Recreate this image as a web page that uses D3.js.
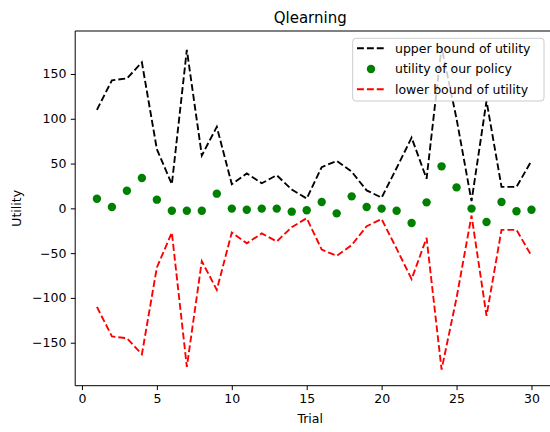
<!DOCTYPE html>
<html>
<head>
<meta charset="utf-8">
<script src="https://cdn.jsdelivr.net/npm/d3@7"></script>
<style>
  html, body { margin: 0; padding: 0; background: #fff; overflow: hidden; }
  svg { display: block; font-family: "DejaVu Sans", sans-serif; }
</style>
</head>
<body>
<svg id="chart" width="550" height="432"></svg>
<script>
const trials = d3.range(1, 31);
const upperBound = [110, 143, 145, 163, 66, 27, 177, 59, 91, 27, 39, 28, 37, 21, 11, 46, 53, 41, 20, 12, 45, 79, 33, 180, 100, 8, 120, 24, 24, 53];
const utility = [10.8, 1.5, 19.7, 33.9, 9.7, -2.6, -2.6, -2.6, 16.4, -0.3, -1.5, -0.3, -0.3, -3.7, -2.2, 7.1, -5.6, 13.4, 1.5, -0.3, -2.6, -16.3, 6.7, 46.9, 23.4, -0.3, -15.2, 7.1, -3.3, -1.5];
const lowerBound = [-110, -143, -145, -163, -66, -27, -177, -59, -91, -27, -39, -28, -37, -21, -11, -46, -53, -41, -20, -12, -45, -79, -33, -180, -100, -8, -120, -24, -24, -53];
const xTicks = [0, 5, 10, 15, 20, 25, 30];
const yTicks = [-150, -100, -50, 0, 50, 100, 150];
const legendLabels = ["upper bound of utility", "utility of our policy", "lower bound of utility"];

(function () {
const svg = d3.select("#chart");
const pL = 75.2, pR = 553.2, pT = 31, pB = 385.7;

function padded(ext) { const m = (ext[1] - ext[0]) * 0.05; return [ext[0] - m, ext[1] + m]; }
const xDom = padded(d3.extent(trials));
const yDom = padded(d3.extent(upperBound.concat(lowerBound, utility)));

const x = d3.scaleLinear().domain(xDom).range([pL, pR]);
const y = d3.scaleLinear().domain(yDom).range([pB, pT]);

const fs = 12.5;

const xAxis = svg.append("g").attr("transform", `translate(0,${pB})`)
  .call(d3.axisBottom(x).tickValues(xTicks).tickSize(4.4).tickPadding(4.4).tickFormat(d3.format("d")));
const yAxis = svg.append("g").attr("transform", `translate(${pL},0)`)
  .call(d3.axisLeft(y).tickValues(yTicks).tickSize(4.4).tickPadding(4.4).tickFormat(d => d < 0 ? "\u2212" + Math.abs(d) : d));
[xAxis, yAxis].forEach(g => {
  g.select(".domain").remove();
  g.selectAll(".tick line").attr("stroke", "#000").attr("stroke-width", 1);
  g.selectAll(".tick text").attr("fill", "#000").style("font-size", fs + "px").style("font-family", "DejaVu Sans");
});

// spines (right spine lies beyond the cropped canvas)
const spines = svg.append("g").attr("stroke", "#000").attr("stroke-width", 1);
spines.append("line").attr("x1", pL).attr("x2", pL).attr("y1", pT).attr("y2", pB);
spines.append("line").attr("x1", pL).attr("x2", pR).attr("y1", pT).attr("y2", pT);
spines.append("line").attr("x1", pL).attr("x2", pR).attr("y1", pB).attr("y2", pB);
spines.append("line").attr("x1", pR).attr("x2", pR).attr("y1", pT).attr("y2", pB);

const line = d3.line().x((d, i) => x(trials[i])).y(d => y(d));

svg.append("path").datum(upperBound).attr("d", line)
  .attr("fill", "none").attr("stroke", "#000").attr("stroke-width", 1.875).attr("stroke-dasharray", "6.9,3");

svg.append("g").selectAll("circle").data(utility).join("circle")
  .attr("cx", (d, i) => x(trials[i])).attr("cy", d => y(d)).attr("r", 4.2).attr("fill", "#008000");

svg.append("path").datum(lowerBound).attr("d", line)
  .attr("fill", "none").attr("stroke", "#ff0000").attr("stroke-width", 1.875).attr("stroke-dasharray", "6.9,3");

svg.append("text").attr("x", (pL + pR) / 2 - 4).attr("y", 23).attr("text-anchor", "middle")
  .style("font-size", "15px").attr("fill", "#000").text("Qlearning");
svg.append("text").attr("x", (pL + pR) / 2 - 4).attr("y", 423).attr("text-anchor", "middle")
  .style("font-size", fs + "px").attr("fill", "#000").text("Trial");
svg.append("text").attr("transform", `translate(21,${(pT + pB) / 2}) rotate(-90)`).attr("text-anchor", "middle")
  .style("font-size", fs + "px").attr("fill", "#000").text("Utility");

const lg = svg.append("g");
lg.append("rect").attr("x", 352.7).attr("y", 38.3).attr("width", 191.3).attr("height", 62.7).attr("rx", 3)
  .attr("fill", "#fff").attr("fill-opacity", 0.8).attr("stroke", "#cccccc").attr("stroke-width", 1);
const rowsY = [48.3, 69, 89.3];
const styles = [
  { type: "line", color: "#000" },
  { type: "dot", color: "#008000" },
  { type: "line", color: "#ff0000" }
];
legendLabels.forEach((lab, i) => {
  const s = styles[i];
  if (s.type === "line") {
    lg.append("line").attr("x1", 357).attr("x2", 385).attr("y1", rowsY[i]).attr("y2", rowsY[i])
      .attr("stroke", s.color).attr("stroke-width", 1.875).attr("stroke-dasharray", "6.9,3");
  } else {
    lg.append("circle").attr("cx", 371).attr("cy", rowsY[i]).attr("r", 4.2).attr("fill", s.color);
  }
  lg.append("text").attr("x", 395).attr("y", rowsY[i]).attr("dy", "0.35em")
    .style("font-size", fs + "px").attr("fill", "#000").text(lab);
});
})();
</script>
</body>
</html>
